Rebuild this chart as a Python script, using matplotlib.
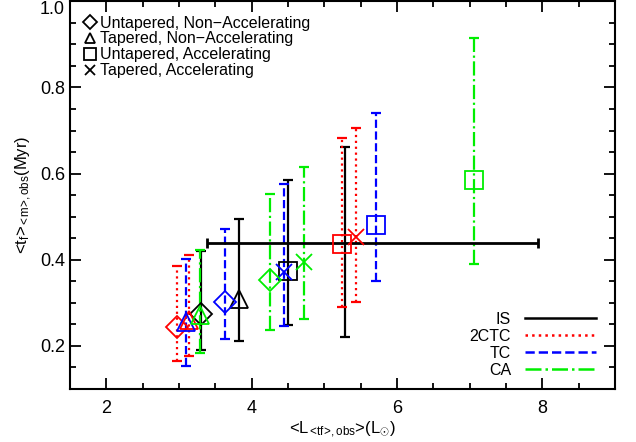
import numpy as np
import matplotlib
matplotlib.use('Agg')
import matplotlib.pyplot as plt
from matplotlib.lines import Line2D

plt.rcParams['font.family'] = ['Liberation Sans', 'DejaVu Sans']
plt.rcParams['mathtext.fontset'] = 'custom'
plt.rcParams['mathtext.rm'] = 'Liberation Sans'
plt.rcParams['mathtext.it'] = 'Liberation Sans'

# models and marker order: untapered non-acc, tapered non-acc, untapered acc, tapered acc
models = ['IS', '2CTC', 'TC', 'CA']
colors = ['black', 'red', 'blue', '#00ee00']
styles = ['-', ':', '--', '-.']
markers = ['D', '^', 's', 'x']

# IS
is_x = [3.30, 3.82, 4.50, 5.29]
is_y = [0.273, 0.310, 0.374, 0.440]
is_lo = [0.190, 0.212, 0.248, 0.221]
is_hi = [0.420, 0.495, 0.584, 0.661]
is_show = [True, True, True, False]
is_xlo = 3.39
is_xhi = 7.94

# 2CTC
tc2_x = [2.97, 3.14, 5.25, 5.44]
tc2_y = [0.245, 0.260, 0.437, 0.453]
tc2_lo = [0.165, 0.176, 0.290, 0.302]
tc2_hi = [0.385, 0.412, 0.682, 0.706]

# TC
tc_x = [3.64, 3.09, 5.71, 4.44]
tc_y = [0.302, 0.256, 0.480, 0.371]
tc_lo = [0.215, 0.153, 0.351, 0.246]
tc_hi = [0.472, 0.401, 0.741, 0.576]

# CA
ca_x = [4.25, 3.29, 7.06, 4.72]
ca_y = [0.354, 0.271, 0.586, 0.395]
ca_lo = [0.238, 0.183, 0.391, 0.262]
ca_hi = [0.553, 0.423, 0.915, 0.615]

marker_labels = ['Untapered, Non\u2212Accelerating', 'Tapered, Non\u2212Accelerating',
                 'Untapered, Accelerating', 'Tapered, Accelerating']

data = [(is_x, is_y, is_lo, is_hi), (tc2_x, tc2_y, tc2_lo, tc2_hi),
        (tc_x, tc_y, tc_lo, tc_hi), (ca_x, ca_y, ca_lo, ca_hi)]

fig = plt.figure(figsize=(6.36, 4.42), dpi=100)
ax = fig.add_axes([0.110, 0.120, 0.857, 0.877])

msize = {'D': 11, '^': 12.5, 's': 13, 'x': 12}

for k, (xs, ys, lo, hi) in enumerate(data):
    xs = np.array(xs); ys = np.array(ys)
    yerr = [ys - np.array(lo), np.array(hi) - ys]
    eb = ax.errorbar(xs, ys, yerr=yerr, fmt='none', ecolor=colors[k],
                     elinewidth=1.6, capsize=3.5, capthick=1.6, zorder=2)
    eb[2][0].set_linestyle(styles[k])
    for i in range(4):
        if k == 0 and not is_show[i]:
            continue
        ax.plot(xs[i], ys[i], marker=markers[i], ms=msize[markers[i]],
                mfc='none', mec=colors[k], mew=1.3, ls='none', zorder=3)

# horizontal error bar for IS
ax.errorbar(is_x[3], is_y[3], xerr=[[is_x[3] - is_xlo], [is_xhi - is_x[3]]],
            fmt='none', ecolor='black', elinewidth=2, capsize=3.5, capthick=2, zorder=2)

ax.set_xlim(1.5, 9.0)
ax.set_ylim(0.1, 1.0)
ax.set_xticks([2, 4, 6, 8])
ax.set_xticks(np.arange(1.5, 9.01, 0.5), minor=True)
ax.set_yticks([0.2, 0.4, 0.6, 0.8, 1.0])
ax.set_yticks(np.arange(0.1, 1.001, 0.05), minor=True)
ax.set_yticklabels(['0.2', '0.4', '0.6', '0.8', '1.0'])
ax.get_yticklabels()[-1].set_va('top')
ax.tick_params(which='both', direction='in', top=True, right=True, width=1.3, labelsize=13)
ax.tick_params(which='major', length=8)
ax.tick_params(which='minor', length=4)
ax.tick_params(axis='x', pad=8)
for sp in ax.spines.values():
    sp.set_linewidth(1.5)

ax.set_xlabel(r'<L$_{<\!\mathrm{tf}\!>\!,\mathrm{obs}}$>(L$_{\odot}$)', fontsize=12, labelpad=2)
ax.set_ylabel(r'<t$_{\mathrm{f}}$>$_{<\!\mathrm{m}\!>\!,\mathrm{obs}}$(Myr)', fontsize=12, labelpad=4)

h1 = [Line2D([], [], marker=m, ls='none', mfc='none', mec='black', mew=1.3,
             ms=msize[m] * 0.62) for m in markers]
leg1 = ax.legend(h1, marker_labels, loc='upper left', frameon=False, fontsize=11.5,
                 handlelength=0.7, handletextpad=0.3, labelspacing=0.05,
                 borderaxespad=0.4, borderpad=0.5)
ax.add_artist(leg1)

h2 = [Line2D([], [], color=colors[k], ls=styles[k], lw=1.8) for k in range(4)]
ax.legend(h2, models, loc='lower right', frameon=False, fontsize=11.5,
          markerfirst=False, handlelength=4.4, handletextpad=0.9, labelspacing=0.12,
          borderaxespad=0.3, bbox_to_anchor=(0.985, 0.0))

fig.savefig('out.png', dpi=100)
